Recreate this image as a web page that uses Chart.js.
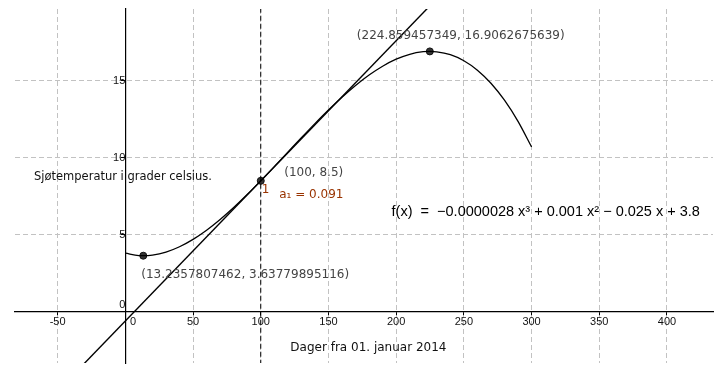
<!DOCTYPE html>
<html><head><meta charset="utf-8">
<script src="https://cdn.jsdelivr.net/npm/chart.js@4"></script>
<style>html,body{margin:0;padding:0;background:#fff;} #wrap{width:727px;height:384px;}</style>
</head><body><div id="wrap"><canvas id="c" width="727" height="384"></canvas></div>
<script>
// Curve f(x) (values of the plotted polynomial)
const curveX = [0, 10, 13.2357807462, 20, 30, 40, 50, 60, 70, 80, 90, 100, 110, 120, 130, 140, 150, 160, 170, 180, 190, 200, 210, 220, 224.859457349, 230, 240, 250, 260, 270, 280, 290, 300];
const curveY = [3.8, 3.6472, 3.63779895116, 3.6776, 3.8744, 4.2208, 4.7, 5.2952, 5.9896, 6.7664, 7.6088, 8.5, 9.4232, 10.3616, 11.2984, 12.2168, 13.1, 13.9312, 14.6936, 15.3704, 15.9448, 16.4, 16.7192, 16.8856, 16.9062675639, 16.8824, 16.6928, 16.3, 15.6872, 14.8376, 13.7344, 12.3608, 10.7];
// Tangent line at x = 100 (slope 0.091)
const tangentX = [-40, 235];
const tangentY = [-4.24, 20.785];
// Vertical dashed line x = 100
const markerX = [100, 100];
const markerY = [-5, 21];
// Marked points
const pointX = [13.2357807462, 100, 224.859457349];
const pointY = [3.63779895116, 8.5, 16.9062675639];
const pointLabels = ['(13.2357807462, 3.63779895116)', '(100, 8.5)', '(224.859457349, 16.9062675639)'];
// Ticks
const xTicks = [-50, 0, 50, 100, 150, 200, 250, 300, 350, 400];
const yTicks = [0, 5, 10, 15];
// Texts
const slopeUnit = '1';
const slopeLabel = 'a\u2081 = 0.091';
const formulaLabel = 'f(x)  =  \u22120.0000028 x\u00B3 + 0.001 x\u00B2 \u2212 0.025 x + 3.8';
const xTitle = 'Dager fra 01. januar 2014';
const yTitle = 'Sj\u00F8temperatur i grader celsius.';

const TICKFONT = "'Liberation Sans', Arial, sans-serif";
const TEXTFONT = "'DejaVu Sans', sans-serif";
const MATHFONT = "'Liberation Sans', Arial, sans-serif";

const textPlugin = {
  id: 'texts',
  afterDatasetsDraw(chart) {
    const ctx = chart.ctx;
    const xs = chart.scales.x, ys = chart.scales.y;
    const px = v => xs.getPixelForValue(v);
    const py = v => ys.getPixelForValue(v);
    ctx.save();
    ctx.textBaseline = 'middle';
    ctx.textAlign = 'left';
    // point labels
    ctx.fillStyle = '#444';
    ctx.font = "12px " + TEXTFONT;
    ctx.fillText(pointLabels[0], px(pointX[0]) - 2, py(pointY[0]) + 19.5);
    ctx.fillText(pointLabels[1], px(pointX[1]) + 23.5, py(pointY[1]) - 7.5);
    ctx.fillText(pointLabels[2], px(pointX[2]) - 73, py(pointY[2]) - 16);
    // slope labels
    ctx.fillStyle = '#993300';
    ctx.font = "12px " + TEXTFONT;
    ctx.fillText(slopeUnit, px(pointX[1]) + 1, py(pointY[1]) + 9);
    ctx.fillText(slopeLabel, px(pointX[1]) + 18.5, py(pointY[1]) + 14);
    // formula
    ctx.fillStyle = '#000';
    ctx.font = "14.5px " + MATHFONT;
    ctx.fillText(formulaLabel, px(196.6), py(6.49));
    // titles
    ctx.fillStyle = '#111';
    ctx.font = "11.5px " + TEXTFONT;
    ctx.fillText(yTitle, px(-67.5), py(8.73));
    ctx.font = "12px " + TEXTFONT;
    ctx.textAlign = 'center';
    ctx.fillText(xTitle, px(179.5), py(-2.36));
    ctx.restore();
  }
};

new Chart(document.getElementById('c'), {
  type: 'scatter',
  data: {
    datasets: [
      { data: curveX.map((x, i) => ({x, y: curveY[i]})), showLine: true, borderColor: '#000', borderWidth: 1.3, pointRadius: 0, cubicInterpolationMode: 'monotone' },
      { data: tangentX.map((x, i) => ({x, y: tangentY[i]})), showLine: true, borderColor: '#000', borderWidth: 1.4, pointRadius: 0 },
      { data: markerX.map((x, i) => ({x, y: markerY[i]})), showLine: true, borderColor: '#000', borderWidth: 1, borderDash: [5, 3], pointRadius: 0 },
      { data: pointX.map((x, i) => ({x, y: pointY[i]})), showLine: false, pointRadius: 3.5, pointBackgroundColor: '#333', pointBorderColor: '#111', pointBorderWidth: 1 }
    ]
  },
  options: {
    responsive: false,
    animation: false,
    events: [],
    layout: { padding: { left: 15, right: 14, top: 9, bottom: 21 } },
    plugins: { legend: { display: false }, tooltip: { enabled: false } },
    scales: {
      x: {
        type: 'linear', min: -81.5, max: 434,
        position: { y: 0 },
        afterBuildTicks: s => { s.ticks = xTicks.map(v => ({ value: v })); },
        grid: { color: '#c2c2c2', lineWidth: 1, tickLength: 3, tickColor: '#000', drawTicks: true },
        border: { display: true, color: '#000', width: 1.2, dash: [5, 3] },
        ticks: { color: '#111', font: { family: TICKFONT, size: 11 }, padding: 1, maxRotation: 0, autoSkip: false,
          callback: v => v === 0 ? '     0' : String(v) }
      },
      y: {
        type: 'linear', min: -3.33, max: 19.66,
        position: { x: 0 },
        afterBuildTicks: s => { s.ticks = yTicks.map(v => ({ value: v })); },
        grid: { color: '#c2c2c2', lineWidth: 1, tickLength: 4, tickColor: '#000', drawTicks: true },
        border: { display: true, color: '#000', width: 1.2, dash: [5, 3] },
        ticks: { color: '#111', font: { family: TICKFONT, size: 11 }, padding: 2, autoSkip: false,
          callback: v => v === 0 ? ['0', ''] : String(v) }
      }
    }
  },
  plugins: [textPlugin]
});
</script>
</body></html>
